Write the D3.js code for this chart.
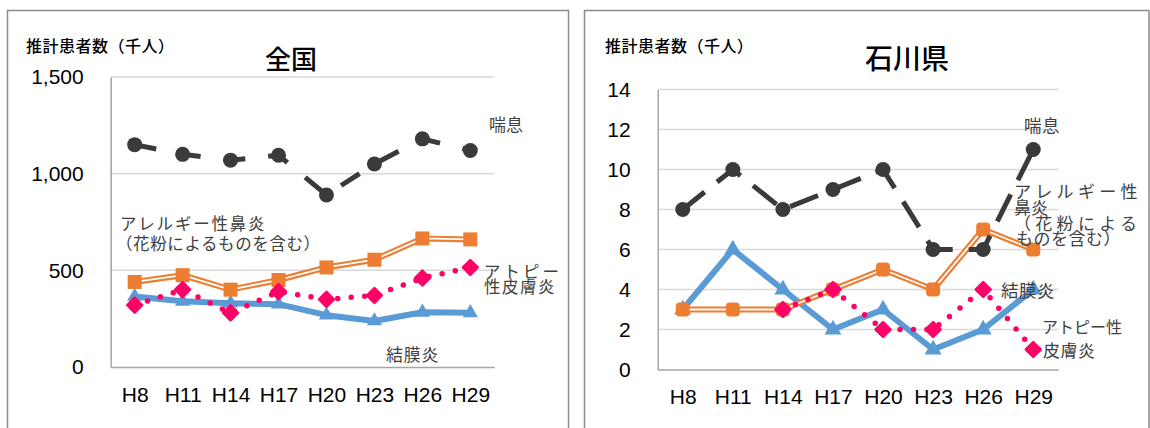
<!DOCTYPE html>
<html>
<head>
<meta charset="utf-8">
<script src="https://d3js.org/d3.v7.min.js"></script>
<style>
  body { margin: 0; background: #fff; }
  svg { display: block; }
</style>
</head>
<body>
<script>
// categories (survey years)
const categories = ["H8", "H11", "H14", "H17", "H20", "H23", "H26", "H29"];

// 全国 (thousand persons)
const zenkokuZensoku   = [1150, 1100, 1070, 1095, 890, 1050, 1180, 1120];
const zenkokuBien      = [440, 475, 400, 450, 515, 555, 665, 660];
const zenkokuAtopy     = [320, 400, 280, 390, 350, 370, 460, 515];
const zenkokuKetsumaku = [365, 340, 330, 325, 268, 238, 283, 280];
const zenkokuTicks     = [0, 500, 1000, 1500];

// 石川県 (thousand persons)
const ishikawaZensoku   = [8, 10, 8, 9, 10, 6, 6, 11];
const ishikawaBien      = [3, 3, 3, 4, 5, 4, 7, 6];
const ishikawaAtopy     = [null, null, 3, 4, 2, 2, 4, 1];
const ishikawaKetsumaku = [3, 6, 4, 2, 3, 1, 2, 4];
const ishikawaTicks     = [0, 2, 4, 6, 8, 10, 12, 14];

const CJK = "'Noto Sans CJK JP', 'Noto Sans', sans-serif";
const LATIN = "'Liberation Sans', Arial, sans-serif";

const svg = d3.select("body").append("svg")
    .attr("width", 1150)
    .attr("height", 428);

// outer frames of the two charts
svg.append("rect").attr("x", 7.5).attr("y", 10.5).attr("width", 561).attr("height", 440)
    .attr("fill", "none").attr("stroke", "#8c8c8c").attr("stroke-width", 1.5);
svg.append("rect").attr("x", 584.5).attr("y", 10.5).attr("width", 564.5).attr("height", 440)
    .attr("fill", "none").attr("stroke", "#8c8c8c").attr("stroke-width", 1.5);

function drawPanel(p) {
    const g = svg.append("g");

    const x = d3.scalePoint().domain(categories).range(p.xRange).padding(0.5);
    const y = d3.scaleLinear().domain([0, p.yMax]).range(p.yRange);

    // gridlines
    g.selectAll(".grid")
        .data(p.ticks.filter(v => v > 0))
        .join("line")
        .attr("x1", p.xRange[0]).attr("x2", p.xRange[1])
        .attr("y1", d => y(d)).attr("y2", d => y(d))
        .attr("stroke", "#d9d9d9").attr("stroke-width", 1.5);

    // y axis
    const ya = g.append("g")
        .attr("transform", `translate(${p.xRange[0]},0)`)
        .call(d3.axisLeft(y).tickValues(p.ticks).tickSize(0).tickPadding(27).tickFormat(p.fmt));
    ya.attr("font-family", LATIN).attr("font-size", 21);
    ya.select(".domain").attr("stroke", "#a6a6a6").attr("stroke-width", 1.5);
    ya.selectAll("text").attr("fill", "#000");

    // x axis
    const xa = g.append("g")
        .attr("transform", `translate(0,${p.yRange[0]})`)
        .call(d3.axisBottom(x).tickSize(0).tickSizeOuter(0).tickPadding(20));
    xa.attr("font-family", LATIN).attr("font-size", 21);
    xa.select(".domain").attr("stroke", "#a6a6a6").attr("stroke-width", 1.5);
    xa.selectAll("text").attr("fill", "#000");

    const line = d3.line()
        .defined(d => d != null)
        .x((d, i) => x(categories[i]))
        .y(d => y(d));

    const pts = arr => arr.map((v, i) => ({ c: categories[i], v: v })).filter(d => d.v != null);

    // 結膜炎
    g.append("path").attr("d", line(p.ketsumaku))
        .attr("fill", "none").attr("stroke", "#5b9bd5").attr("stroke-width", 6)
        .attr("stroke-linejoin", "round");
    g.selectAll(".tri").data(pts(p.ketsumaku)).join("path")
        .attr("d", d3.symbol(d3.symbolTriangle, p.triSize))
        .attr("transform", d => `translate(${x(d.c)},${y(d.v)})`)
        .attr("fill", "#5b9bd5");

    // アレルギー性鼻炎 (double line)
    g.append("path").attr("d", line(p.bien))
        .attr("fill", "none").attr("stroke", "#ed7d31").attr("stroke-width", 6)
        .attr("stroke-linejoin", "round");
    g.append("path").attr("d", line(p.bien))
        .attr("fill", "none").attr("stroke", "#fff").attr("stroke-width", 1.8)
        .attr("stroke-linejoin", "round");
    g.selectAll(".sq").data(pts(p.bien)).join("rect")
        .attr("x", d => x(d.c) - 7).attr("y", d => y(d.v) - 7)
        .attr("width", 14).attr("height", 14)
        .attr("rx", p.sqRound).attr("fill", "#ed7d31");

    // アトピー性皮膚炎 (round dotted)
    g.append("path").attr("d", line(p.atopy))
        .attr("fill", "none").attr("stroke", "#ff0066").attr("stroke-width", 5.5)
        .attr("stroke-linecap", "round").attr("stroke-dasharray", "0,13.5");
    g.selectAll(".dia").data(pts(p.atopy)).join("path")
        .attr("d", d3.symbol(d3.symbolSquare, 110))
        .attr("transform", d => `translate(${x(d.c)},${y(d.v)}) rotate(45)`)
        .attr("fill", "#ff0066").attr("stroke", "#ff0066")
        .attr("stroke-width", 2.5).attr("stroke-linejoin", "round");

    // 喘息 (long dash)
    g.append("path").attr("d", line(p.zensoku))
        .attr("fill", "none").attr("stroke", "#3a3a3a").attr("stroke-width", 5)
        .attr("stroke-dasharray", p.dash).attr("stroke-dashoffset", p.dashOffset);
    g.selectAll(".dot").data(pts(p.zensoku)).join("circle")
        .attr("cx", d => x(d.c)).attr("cy", d => y(d.v)).attr("r", 7.5)
        .attr("fill", "#3a3a3a");

    // titles
    g.append("text").attr("x", p.titleX).attr("y", 57)
        .attr("text-anchor", "middle").attr("dominant-baseline", "central")
        .attr("font-family", CJK).attr("font-size", p.titleSize).attr("font-weight", 500)
        .attr("fill", "#000").text(p.title);
    g.append("text").attr("x", p.unitX).attr("y", 45)
        .attr("dominant-baseline", "central")
        .attr("font-family", CJK).attr("font-size", 16).attr("font-weight", 500)
        .attr("letter-spacing", 0.5)
        .attr("fill", "#000").text("推計患者数（千人）");

    // series labels
    g.selectAll(".lab").data(p.labels).join("text")
        .attr("x", d => d.x).attr("y", d => d.y)
        .attr("dominant-baseline", "central")
        .attr("font-family", CJK).attr("font-size", d => d.s)
        .attr("letter-spacing", d => d.ls)
        .attr("fill", "#404040")
        .text(d => d.t);
}

drawPanel({
    xRange: [110.7, 494.3], yRange: [367, 77], yMax: 1500,
    ticks: zenkokuTicks, fmt: d3.format(","),
    zensoku: zenkokuZensoku, bien: zenkokuBien, atopy: zenkokuAtopy, ketsumaku: zenkokuKetsumaku,
    triSize: 100, sqRound: 0, dash: "22,23", dashOffset: 0,
    title: "全国", titleX: 291, titleSize: 26, unitX: 26,
    labels: [
        { t: "喘息", x: 489, y: 123, s: 17, ls: 0 },
        { t: "アレルギー性鼻炎", x: 120, y: 223, s: 16.5, ls: 1.8 },
        { t: "（花粉によるものを含む）", x: 116, y: 243, s: 16.5, ls: 0.6 },
        { t: "アトピー", x: 484, y: 271, s: 16.5, ls: 3 },
        { t: "性皮膚炎", x: 484, y: 286, s: 16.5, ls: 1.5 },
        { t: "結膜炎", x: 386, y: 353, s: 17, ls: 0.8 }
    ]
});

drawPanel({
    xRange: [657.7, 1058.3], yRange: [369.5, 89.5], yMax: 14,
    ticks: ishikawaTicks, fmt: d3.format("d"),
    zensoku: ishikawaZensoku, bien: ishikawaBien, atopy: ishikawaAtopy, ketsumaku: ishikawaKetsumaku,
    triSize: 125, sqRound: 4, dash: "30,16", dashOffset: 2,
    title: "石川県", titleX: 907, titleSize: 28, unitX: 605,
    labels: [
        { t: "喘息", x: 1024, y: 124, s: 17.5, ls: 0.5 },
        { t: "アレルギー性", x: 1014, y: 190, s: 17, ls: 4.3 },
        { t: "鼻炎", x: 1014, y: 206, s: 17, ls: 0 },
        { t: "（花粉による", x: 1014, y: 222, s: 17, ls: 4.3 },
        { t: "ものを含む）", x: 1016, y: 237, s: 17, ls: 0.5 },
        { t: "結膜炎", x: 1001, y: 289, s: 17.5, ls: 0.5 },
        { t: "アトピー性", x: 1042, y: 326, s: 16, ls: 0 },
        { t: "皮膚炎", x: 1043, y: 349, s: 17, ls: 0.5 }
    ]
});
</script>
</body>
</html>
